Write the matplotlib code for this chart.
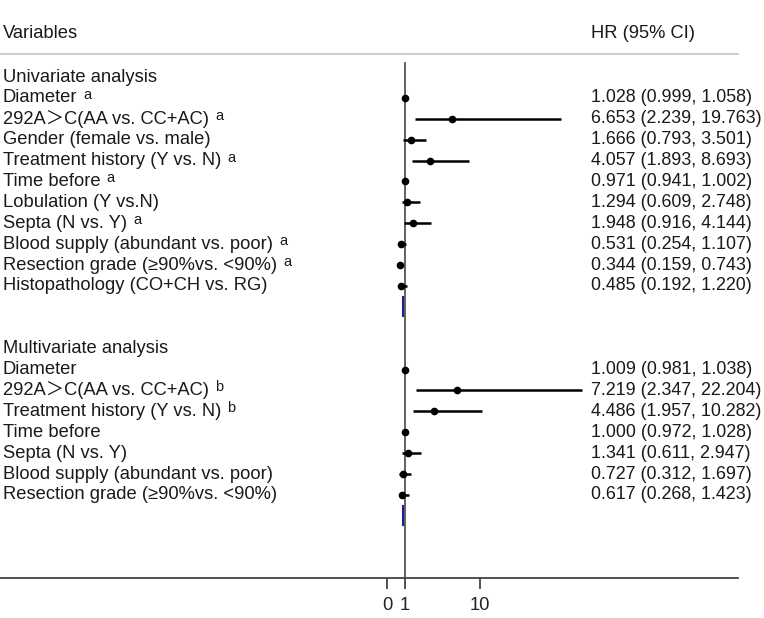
import matplotlib
matplotlib.use("Agg")
import matplotlib.pyplot as plt
from matplotlib.transforms import blended_transform_factory

# ---------------- data ----------------
uni_labels = ["Diameter", "292A\uff1eC(AA vs. CC+AC)", "Gender (female vs. male)",
              "Treatment history (Y vs. N)", "Time before", "Lobulation (Y vs.N)",
              "Septa (N vs. Y)", "Blood supply (abundant vs. poor)",
              "Resection grade (\u226590%vs. <90%)", "Histopathology (CO+CH vs. RG)"]
uni_sup = ["a", "a", "", "a", "a", "", "a", "a", "a", ""]
uni_hr = [1.028, 6.653, 1.666, 4.057, 0.971, 1.294, 1.948, 0.531, 0.344, 0.485]
uni_lo = [0.999, 2.239, 0.793, 1.893, 0.941, 0.609, 0.916, 0.254, 0.159, 0.192]
uni_hi = [1.058, 19.763, 3.501, 8.693, 1.002, 2.748, 4.144, 1.107, 0.743, 1.220]

multi_labels = ["Diameter", "292A\uff1eC(AA vs. CC+AC)", "Treatment history (Y vs. N)",
                "Time before", "Septa (N vs. Y)", "Blood supply (abundant vs. poor)",
                "Resection grade (\u226590%vs. <90%)"]
multi_sup = ["", "b", "b", "", "", "", ""]
multi_hr = [1.009, 7.219, 4.486, 1.000, 1.341, 0.727, 0.617]
multi_lo = [0.981, 2.347, 1.957, 0.972, 0.611, 0.312, 0.268]
multi_hi = [1.038, 22.204, 10.282, 1.028, 2.947, 1.697, 1.423]

tick_vals = [-1.15, 1, 10]
tick_labels = ["0", "1", "10"]

# ---------------- layout ----------------
W, H = 764, 618
fig = plt.figure(figsize=(W / 100, H / 100), dpi=100)
ax_right = 738
ax_bottom = 578
ax = fig.add_axes([0, (H - ax_bottom) / H, ax_right / W, ax_bottom / H])

px_per_unit = 8.33
x_one = 405
ax.set_xlim(1 - x_one / px_per_unit, 1 + (ax_right - x_one) / px_per_unit)
row0, row_h = 77, 20.9
ax.set_ylim((ax_bottom - row0) / row_h, -row0 / row_h)

for s in ["top", "left", "right"]:
    ax.spines[s].set_visible(False)
ax.spines["bottom"].set_color("#444444")
ax.spines["bottom"].set_linewidth(1.3)
ax.set_yticks([])
ax.set_xticks(tick_vals)
ax.set_xticklabels(tick_labels, fontsize=13.2, color="#222222", family="Liberation Sans")
ax.tick_params(axis="x", direction="out", length=8, width=1.3, color="#444444", pad=6)

txt_color = "#1a1a1a"
fam = ["Liberation Sans", "Noto Sans CJK SC", "DejaVu Sans"]
fs = 13.2
fs_hr = 12.9
lab_tr = blended_transform_factory(fig.transFigure, ax.transData)
x_lab = 3 / W
x_hr = 591 / W

# header
hdr_y = (34 - row0) / row_h
ax.text(x_lab, hdr_y, "Variables", transform=lab_tr, fontsize=fs, family=fam,
        color=txt_color, va="center", ha="left")
ax.text(x_hr, hdr_y, "HR (95% CI)", transform=lab_tr, fontsize=fs, family=fam,
        color=txt_color, va="center", ha="left")
line_y = (54 - row0) / row_h
ax.plot([0, ax_right / W], [line_y, line_y], transform=lab_tr, color="#d0d0d0",
        lw=1.5, clip_on=False)

# vertical reference line
ax.plot([1, 1], [(63 - row0) / row_h, ax.get_ylim()[0]], color="#555555", lw=1.3,
        clip_on=False, zorder=1)

# rows
sections = [("Univariate analysis", 0, uni_labels, uni_sup, uni_hr, uni_lo, uni_hi),
            ("Multivariate analysis", 13, multi_labels, multi_sup, multi_hr, multi_lo, multi_hi)]
sup_items = []
for title, start, labels, sups, hr, lo, hi in sections:
    ax.text(x_lab, start, title, transform=lab_tr, fontsize=fs, family=fam,
            color=txt_color, va="center", ha="left")
    for i, lab in enumerate(labels):
        r = start + 1 + i
        t = ax.text(x_lab, r, lab, transform=lab_tr, fontsize=fs, family=fam,
                    color=txt_color, va="center", ha="left")
        if sups[i]:
            sup_items.append((t, sups[i], r))
        ax.text(x_hr, r, f"{hr[i]:.3f} ({lo[i]:.3f}, {hi[i]:.3f})", transform=lab_tr,
                fontsize=fs_hr, family=fam, color=txt_color, va="center", ha="left")
        ax.plot([lo[i], hi[i]], [r, r], color="black", lw=1.8, solid_capstyle="butt",
                zorder=3, clip_on=False)
        ax.plot([hr[i]], [r], marker="o", color="black", ms=4.5, zorder=4)
    # small blue marker at end of section
    end_r = start + 1 + len(labels)
    ax.plot([0.8, 0.8], [end_r - 0.45, end_r + 0.45], color="#1f1f9a", lw=1.5, zorder=2)

# superscripts after labels
fig.canvas.draw()
renderer = fig.canvas.get_renderer()
for t, s, r in sup_items:
    bb = t.get_window_extent(renderer)
    ydisp = ax.transData.transform((0, r))[1]
    fig.text((bb.x1 + 6) / W, (ydisp + 3) / H, s, fontsize=10.5, family=fam,
             color=txt_color, va="center", ha="left")

fig.savefig("out.png", dpi=100)
